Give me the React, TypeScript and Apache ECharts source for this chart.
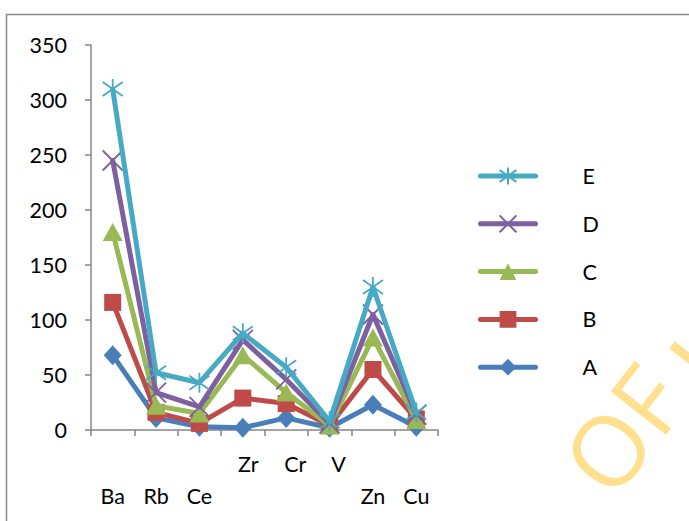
import React, { useEffect, useRef } from "react";
import * as echarts from "echarts";

const categories = ["Ba", "Rb", "Ce", "Zr", "Cr", "V", "Zn", "Cu"];
const seriesNames = ["A", "B", "C", "D", "E"];
const valuesA = [68, 11, 3, 2, 11, 2, 23, 3];
const valuesB = [116, 16, 6, 29, 24, 4, 55, 10];
const valuesC = [180, 22, 15, 68, 34, 4, 84, 9];
const valuesD = [245, 34, 21, 82, 46, 6, 105, 14];
const valuesE = [310, 52, 43, 88, 57, 8, 130, 16];
const yTicks = [0, 50, 100, 150, 200, 250, 300, 350];
const raisedLabels = ["Zr", "Cr", "V"];

const colors = ["#4A7EBB", "#BE4B48", "#98B954", "#7D60A0", "#46AAC5"];
const symbols = [
  "diamond",
  "rect",
  "triangle",
  "path://M0,0L20,20M20,0L0,20",
  "path://M1,3L19,17M19,3L1,17M10,0L10,20",
];
const symbolSizes: any[] = [[18, 20], 17, [20, 18], 20, 20];

const FONT = "Lato";
const FS = 21.5;

export default function App() {
  const ref = useRef<HTMLDivElement>(null);
  useEffect(() => {
    if (!ref.current) return;
    const chart = echarts.init(ref.current, null, { renderer: "svg" });
    const allValues = [valuesA, valuesB, valuesC, valuesD, valuesE];
    const series = seriesNames.map((name, i) => ({
      name,
      type: "line",
      data: allValues[i],
      symbol: symbols[i],
      symbolSize: symbolSizes[i],
      showSymbol: true,
      lineStyle: { color: colors[i], width: 5, cap: "round", join: "round" },
      itemStyle: {
        color: colors[i],
        borderColor: colors[i],
        borderWidth: i >= 3 ? 1.8 : 0,
      },
      z: 2 + i,
    }));
    const txt = { fontSize: FS, fontFamily: FONT, color: "#000" };
    chart.setOption({
      animation: false,
      backgroundColor: "#ffffff",
      textStyle: { fontFamily: FONT },
      grid: { left: 91, right: 251, top: 45, bottom: 91, containLabel: false },
      xAxis: {
        type: "category",
        data: categories,
        boundaryGap: true,
        axisLine: { show: true, lineStyle: { color: "#868686", width: 1.5 } },
        axisTick: {
          show: true,
          length: 6,
          alignWithLabel: false,
          interval: 0,
          lineStyle: { color: "#868686", width: 1.5 },
        },
        axisLabel: {
          interval: 0,
          margin: 23,
          ...txt,
          formatter: (v: string) => {
            if (raisedLabels.indexOf(v) >= 0) {
              return v === "Zr" ? "{u1|" + v + "}" : "{u2|" + v + "}";
            }
            return "{lo|" + v + "}";
          },
          rich: {
            lo: { ...txt, padding: [32, 0, 0, 0] },
            u1: { ...txt, padding: [0, 0, 0, 11] },
            u2: { ...txt, padding: [0, 0, 0, 18] },
          },
        },
        splitLine: { show: false },
      },
      yAxis: {
        type: "value",
        min: yTicks[0],
        max: yTicks[yTicks.length - 1],
        interval: yTicks[1] - yTicks[0],
        axisLine: { show: true, lineStyle: { color: "#868686", width: 1.5 } },
        axisTick: { show: true, length: 6, lineStyle: { color: "#868686", width: 1.5 } },
        axisLabel: { margin: 24, ...txt },
        splitLine: { show: false },
      },
      legend: {
        orient: "vertical",
        left: 478,
        top: 165,
        padding: 0,
        itemWidth: 55,
        itemHeight: 21,
        itemGap: 25.8,
        data: ["E", "D", "C", "B", "A"],
        formatter: "{t|{name}}",
        textStyle: {
          ...txt,
          rich: { t: { ...txt, padding: [0, 0, 0, 42] } },
        },
        lineStyle: { width: 5, cap: "round" },
      },
      graphic: [
        {
          type: "rect",
          shape: { x: 6.5, y: 14.5, width: 720, height: 540 },
          style: { fill: "none", stroke: "#8a8a8a", lineWidth: 1.5 },
          silent: true,
          z: -1,
        },
        {
          type: "text",
          x: 583,
          y: 479,
          rotation: (52 * Math.PI) / 180,
          style: {
            text: "OF",
            fill: "#FFE08E",
            font: "98px 'Open Sans'",
            textAlign: "left",
            textVerticalAlign: "middle",
          },
          silent: true,
          z: 10,
        },
        {
          type: "line",
          shape: { x1: 672, y1: 345, x2: 740, y2: 398 },
          style: { stroke: "#FFE08E", lineWidth: 9 },
          silent: true,
          z: 10,
        },
      ],
      series,
    });
    return () => chart.dispose();
  }, []);
  return (
    <div
      ref={ref}
      style={{ position: "fixed", left: 0, top: 0, width: 689, height: 521 }}
    />
  );
}
